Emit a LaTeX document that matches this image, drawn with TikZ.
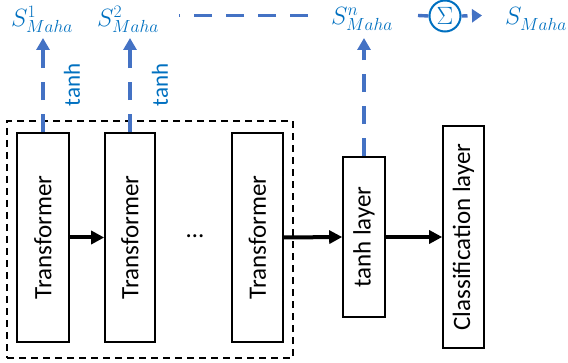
\RequirePackage{fix-cm}
\documentclass[tikz,border=0pt]{standalone}
\usepackage{fontspec}
\setmainfont{Carlito}
\usetikzlibrary{arrows.meta}
\definecolor{txtblue}{HTML}{0070C0}
\definecolor{arrblue}{HTML}{4472C4}
\begin{document}
\begin{tikzpicture}[x=1pt,y=1pt,
  big/.style={font=\fontsize{25}{30}\selectfont},
  box/.style={draw=black, line width=1.6pt, fill=white, rotate=90, inner sep=0pt, big},
  grp/.style={draw=black, line width=1.5pt, dash pattern=on 7pt off 5pt, inner sep=0pt},
  blk/.style={line width=4pt, -{Triangle[length=13pt,width=13pt]}},
  bluedash/.style={arrblue, line width=3.4pt, dash pattern=on 18pt off 14pt, -{Triangle[length=12pt,width=13pt]}},
  hdash/.style={arrblue, line width=3.4pt, dash pattern=on 18pt off 14pt},
  lbl/.style={txtblue, big, inner sep=0pt},
  tlbl/.style={txtblue, font=\fontsize{23}{28}\selectfont, rotate=90, inner sep=0pt}]
\useasboundingbox (0,0) rectangle (568,362);
% group box
\node[grp, minimum width=286pt, minimum height=237pt] (grp) at (150,122.5) {};
% layers
\node[box, minimum width=209pt, minimum height=52pt] (t1) at (43,124.5) {Transformer};
\node[box, minimum width=209pt, minimum height=50pt] (t2) at (130,124.5) {Transformer};
\node[box, minimum width=209pt, minimum height=51pt] (t3) at (257.5,124.5) {Transformer};
\node[big, inner sep=0pt] (dots) at (195,126) {…};
\node[box, minimum width=160pt, minimum height=42pt] (th) at (364,125) {tanh layer};
\node[box, minimum width=222pt, minimum height=41pt] (cl) at (463.5,125) {Classification layer};
% black arrows
\draw[blk] (t1.south) -- (t2.north);
\draw[blk] (t3.south) -- (th.north);
\draw[blk] (th.south) -- (cl.north);
% labels
\node[lbl] (s1) at (42,343) {$S^{1}_{Maha}$};
\node[lbl] (s2) at (128,343) {$S^{2}_{Maha}$};
\node[lbl] (sn) at (362,343) {$S^{n}_{Maha}$};
\node[lbl] (s) at (536,343) {$S^{}_{Maha}$};
\node[tlbl] (tanh1) at (72,277) {tanh};
\node[tlbl] (tanh2) at (160,277) {tanh};
\node[draw=txtblue, circle, line width=2pt, minimum size=31pt, inner sep=0pt, text=txtblue, big] (sig) at (445,346) {$\Sigma$};
% blue arrows
\coordinate (tip1) at (43,324);
\coordinate (tip2) at (130,324);
\coordinate (tipn) at (364,324);
\draw[bluedash] (t1.east) -- (tip1);
\draw[bluedash] (t2.east) -- (tip2);
\draw[bluedash] (th.east) -- (tipn);
\coordinate (hl) at (179,346.5);
\coordinate (hr) at (308,346.5);
\coordinate (hs) at (418,346.5);
\coordinate (tipS) at (482,346.5);
\draw[hdash] (hr) -- (hl);
\draw[arrblue, line width=3.4pt] (hs) -- (sig.west);
\draw[arrblue, line width=3.4pt, dash pattern=on 6pt off 20pt, -{Triangle[length=10pt,width=13pt]}] (sig.east) -- (tipS);
\end{tikzpicture}
\end{document}
